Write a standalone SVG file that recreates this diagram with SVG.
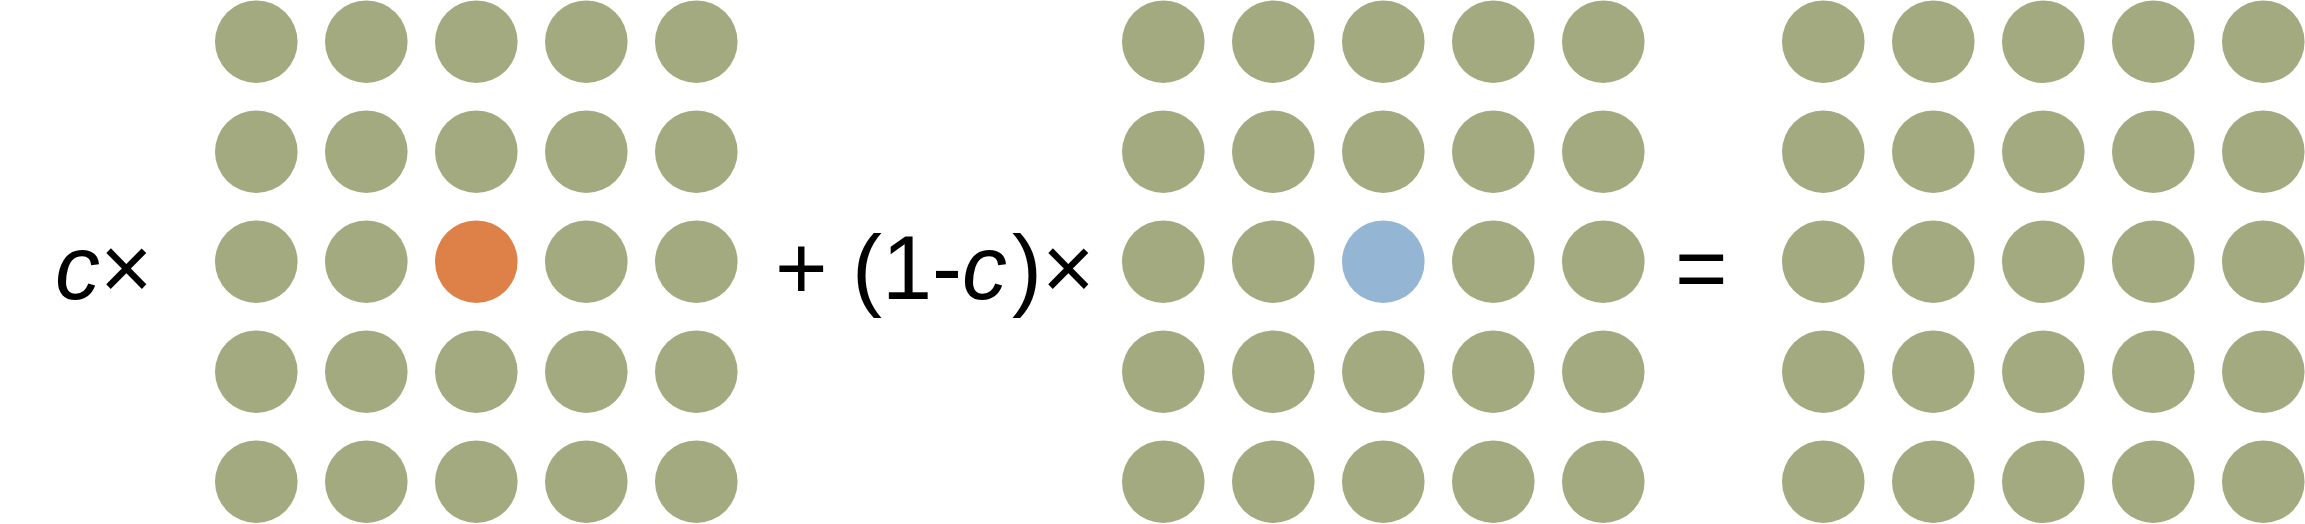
<svg xmlns="http://www.w3.org/2000/svg" width="2305" height="524" viewBox="0 0 2305 524">
<style>
.g{fill:#A4AA80}
.o{fill:#DE8149}
.b{fill:#94B5D3}
text{font-family:"Liberation Sans",Arial,sans-serif;font-size:90px;fill:#000}
.i{font-style:italic}
</style>
<defs>
<circle id="dot" r="41.3"/>
</defs>
<rect width="2305" height="524" fill="#fff"/>
<g id="grid-1">
<g class="g">
<use href="#dot" x="256.3" y="41.7"/><use href="#dot" x="366.3" y="41.7"/><use href="#dot" x="476.3" y="41.7"/><use href="#dot" x="586.3" y="41.7"/><use href="#dot" x="696.3" y="41.7"/>
<use href="#dot" x="256.3" y="151.7"/><use href="#dot" x="366.3" y="151.7"/><use href="#dot" x="476.3" y="151.7"/><use href="#dot" x="586.3" y="151.7"/><use href="#dot" x="696.3" y="151.7"/>
<use href="#dot" x="256.3" y="261.7"/><use href="#dot" x="366.3" y="261.7"/><use href="#dot" x="586.3" y="261.7"/><use href="#dot" x="696.3" y="261.7"/>
<use href="#dot" x="256.3" y="371.7"/><use href="#dot" x="366.3" y="371.7"/><use href="#dot" x="476.3" y="371.7"/><use href="#dot" x="586.3" y="371.7"/><use href="#dot" x="696.3" y="371.7"/>
<use href="#dot" x="256.3" y="481.7"/><use href="#dot" x="366.3" y="481.7"/><use href="#dot" x="476.3" y="481.7"/><use href="#dot" x="586.3" y="481.7"/><use href="#dot" x="696.3" y="481.7"/>
</g>
<use id="grid-1-center" class="o" href="#dot" x="476.3" y="261.7"/>
</g>
<g id="grid-2">
<g class="g">
<use href="#dot" x="1163.3" y="41.7"/><use href="#dot" x="1273.3" y="41.7"/><use href="#dot" x="1383.3" y="41.7"/><use href="#dot" x="1493.3" y="41.7"/><use href="#dot" x="1603.3" y="41.7"/>
<use href="#dot" x="1163.3" y="151.7"/><use href="#dot" x="1273.3" y="151.7"/><use href="#dot" x="1383.3" y="151.7"/><use href="#dot" x="1493.3" y="151.7"/><use href="#dot" x="1603.3" y="151.7"/>
<use href="#dot" x="1163.3" y="261.7"/><use href="#dot" x="1273.3" y="261.7"/><use href="#dot" x="1493.3" y="261.7"/><use href="#dot" x="1603.3" y="261.7"/>
<use href="#dot" x="1163.3" y="371.7"/><use href="#dot" x="1273.3" y="371.7"/><use href="#dot" x="1383.3" y="371.7"/><use href="#dot" x="1493.3" y="371.7"/><use href="#dot" x="1603.3" y="371.7"/>
<use href="#dot" x="1163.3" y="481.7"/><use href="#dot" x="1273.3" y="481.7"/><use href="#dot" x="1383.3" y="481.7"/><use href="#dot" x="1493.3" y="481.7"/><use href="#dot" x="1603.3" y="481.7"/>
</g>
<use id="grid-2-center" class="b" href="#dot" x="1383.3" y="261.7"/>
</g>
<g id="grid-3" class="g">
<use href="#dot" x="1823.3" y="41.7"/><use href="#dot" x="1933.3" y="41.7"/><use href="#dot" x="2043.3" y="41.7"/><use href="#dot" x="2153.3" y="41.7"/><use href="#dot" x="2263.3" y="41.7"/>
<use href="#dot" x="1823.3" y="151.7"/><use href="#dot" x="1933.3" y="151.7"/><use href="#dot" x="2043.3" y="151.7"/><use href="#dot" x="2153.3" y="151.7"/><use href="#dot" x="2263.3" y="151.7"/>
<use href="#dot" x="1823.3" y="261.7"/><use href="#dot" x="1933.3" y="261.7"/><use href="#dot" x="2043.3" y="261.7"/><use href="#dot" x="2153.3" y="261.7"/><use href="#dot" x="2263.3" y="261.7"/>
<use href="#dot" x="1823.3" y="371.7"/><use href="#dot" x="1933.3" y="371.7"/><use href="#dot" x="2043.3" y="371.7"/><use href="#dot" x="2153.3" y="371.7"/><use href="#dot" x="2263.3" y="371.7"/>
<use href="#dot" x="1823.3" y="481.7"/><use href="#dot" x="1933.3" y="481.7"/><use href="#dot" x="2043.3" y="481.7"/><use href="#dot" x="2153.3" y="481.7"/><use href="#dot" x="2263.3" y="481.7"/>
</g>
<g id="labels">
<text x="55" y="299"><tspan class="i">c</tspan>×</text>
<text x="775" y="299">+</text>
<text x="852" y="299">(1-<tspan class="i">c</tspan><tspan dx="5">)</tspan>×</text>
<text x="1675" y="299">=</text>
</g>
</svg>
